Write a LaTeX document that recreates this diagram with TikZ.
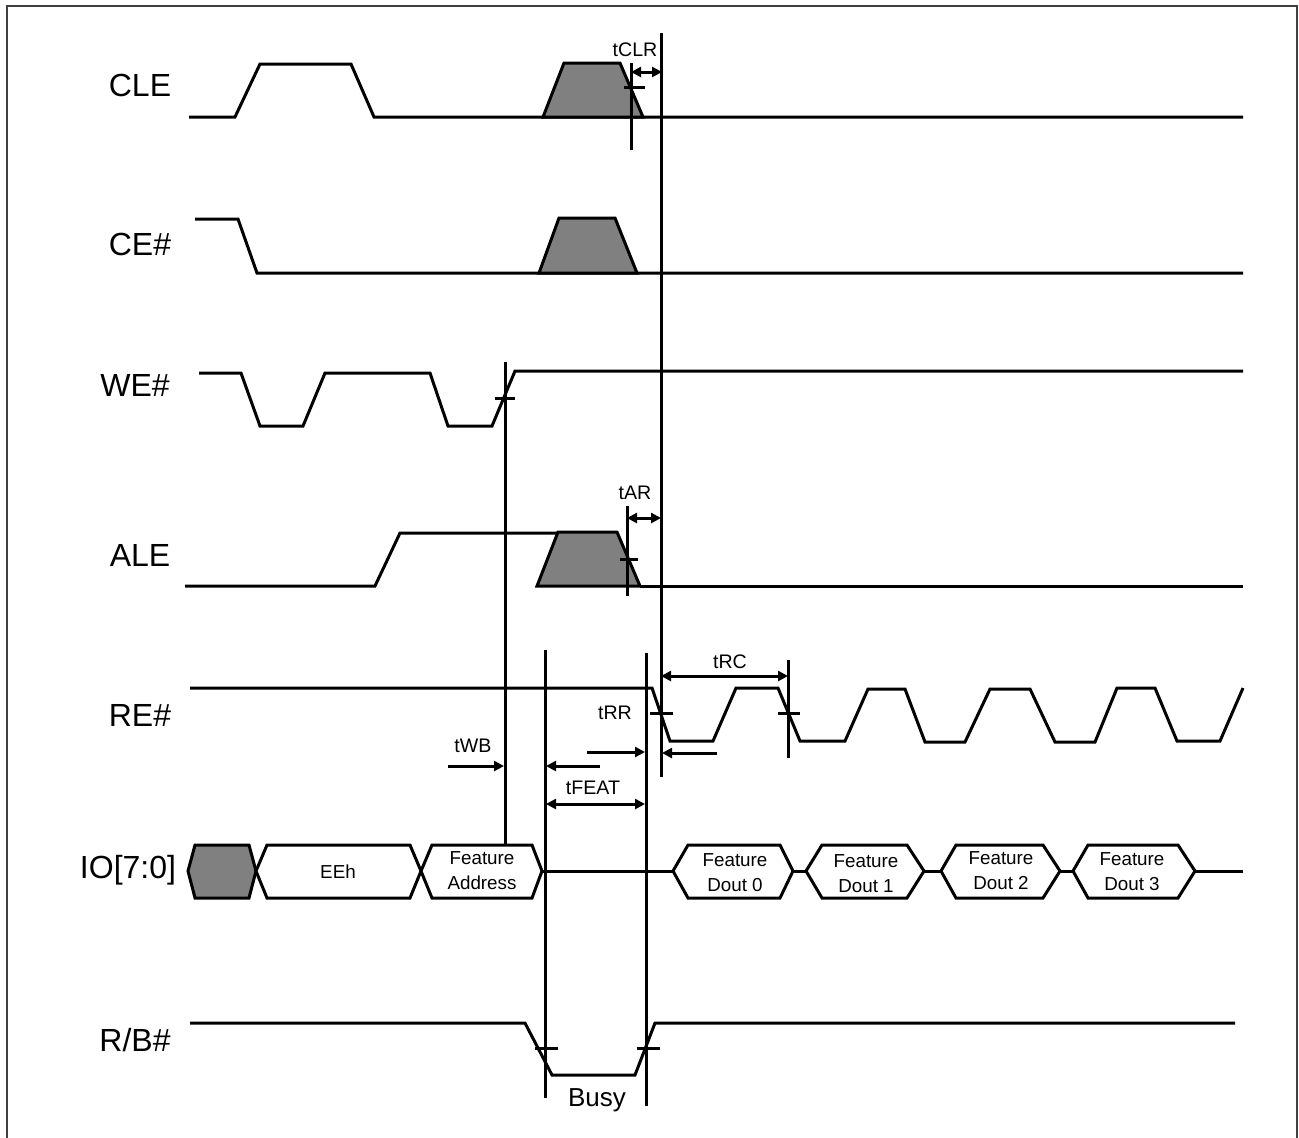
\documentclass[tikz,border=0pt]{standalone}
\usepackage{fontspec}
\setmainfont{Liberation Sans}
\usetikzlibrary{arrows.meta}
\tikzset{
  sig/.style={line width=1.5pt, line join=miter},
  gfill/.style={sig, fill=black!50},
  vline/.style={line width=1.5pt},
  dimarr/.style={line width=1.5pt, -{Triangle[length=5pt,width=5pt]}},
  dimboth/.style={line width=1.5pt, {Triangle[length=5pt,width=5pt]}-{Triangle[length=5pt,width=5pt]}},
  siglabel/.style={font=\fontsize{16}{19}\selectfont, inner sep=0pt},
  tlabel/.style={font=\fontsize{9.8}{12}\selectfont, inner sep=0pt},
  buslabel/.style={font=\fontsize{9.4}{12.5}\selectfont, inner sep=0pt, align=center},
  frame/.style={line width=1pt, draw=black!75}
}
\newcommand{\bushex}[5]{% xl, xtl, xtr, xr, fill
  \draw[sig,#5] (#1,871) -- (#2,845) -- (#3,845) -- (#4,871) -- (#3,898) -- (#2,898) -- cycle;}
\begin{document}
\begin{tikzpicture}[x=0.5pt,y=-0.5pt]
\useasboundingbox (0,0) rectangle (1299,1137);
% frame
\draw[frame] (7,1140) -- (7,6) -- (1297,6) -- (1297,1140);

% signal labels
\node[siglabel] (lcle) at (140,85) {CLE};
\node[siglabel] (lce) at (140,244) {CE\#};
\node[siglabel] (lwe) at (135,385) {WE\#};
\node[siglabel] (lale) at (140,555) {ALE};
\node[siglabel] (lre) at (140,715) {RE\#};
\node[siglabel] (lio) at (128,870) {IO[7:0]};
\node[siglabel] (lrb) at (135,1040) {R/B\#};

% CLE
\draw[sig] (189,117) -- (235,117) -- (260,64) -- (351,64) -- (374,117) -- (1243,117);
\draw[gfill] (543,117) -- (564,63) -- (620,63) -- (643,117) -- cycle;
% CE#
\draw[sig] (195,219) -- (238,219) -- (257,273) -- (1243,273);
\draw[gfill] (539,273) -- (559,218) -- (615,218) -- (637,273) -- cycle;
% WE#
\draw[sig] (199,373) -- (241,373) -- (260,426) -- (303,426) -- (325,373) -- (430,373) -- (448,426) -- (492,426) -- (515,371) -- (1243,371);
% ALE
\draw[sig] (185,586) -- (375,586) -- (400,533) -- (558,533);
\draw[gfill] (537,586) -- (558,532) -- (617,532) -- (640,586) -- cycle;
\draw[sig] (640,586) -- (1243,586);
% RE#
\draw[sig] (190,688) -- (652,688) -- (670,741) -- (713,741) -- (736,688) -- (778,688) -- (800,741) -- (845,741) -- (868,689) -- (905,689) -- (925,742) -- (965,742) -- (990,689) -- (1030,689) -- (1055,742) -- (1095,742) -- (1117,688) -- (1155,688) -- (1177,741) -- (1220,741) -- (1243,688);
% IO bus
\bushex{188}{195}{249}{256}{fill=black!50}
\bushex{256}{267}{410}{421}{fill=white}
\bushex{421}{432}{532}{542}{fill=white}
\draw[sig] (542,871) -- (673,871);
\bushex{673}{688}{780}{793}{fill=white}
\draw[sig] (793,871) -- (806,871);
\bushex{806}{822}{907}{924}{fill=white}
\draw[sig] (924,871) -- (941,871);
\bushex{941}{956}{1043}{1060}{fill=white}
\draw[sig] (1060,871) -- (1073,871);
\bushex{1073}{1088}{1178}{1195}{fill=white}
\draw[sig] (1195,871) -- (1243,871);
\node[siglabel, font=\fontsize{9.4}{12}\selectfont] (eeh) at (338,872) {EEh};
\node[buslabel] (fa) at (482,871) {Feature\\Address};
\node[buslabel] (d0) at (735,873) {Feature\\Dout 0};
\node[buslabel] (d1) at (866,874) {Feature\\Dout 1};
\node[buslabel] (d2) at (1001,871) {Feature\\Dout 2};
\node[buslabel] (d3) at (1132,872) {Feature\\Dout 3};
% R/B#
\draw[sig] (190,1023) -- (525,1023) -- (552,1075) -- (635,1075) -- (655,1023) -- (1235,1023);
\node[siglabel, font=\fontsize{13}{15}\selectfont] (busy) at (597,1100) {Busy};

% vertical reference lines
\coordinate (vclrT) at (631,63);  \coordinate (vclrB) at (631,150);
\coordinate (vbigT) at (661,33);  \coordinate (vbigB) at (661,777);
\coordinate (varT) at (627,506);  \coordinate (varB) at (627,596);
\coordinate (vweT) at (505,362);  \coordinate (vweB) at (505,845);
\coordinate (vflT) at (545,650);  \coordinate (vflB) at (545,1098);
\coordinate (vfrT) at (646,653);  \coordinate (vfrB) at (646,1106);
\coordinate (vrcT) at (788,660);  \coordinate (vrcB) at (788,758);
\draw[vline] (vclrT) -- (vclrB);
\draw[vline] (vbigT) -- (vbigB);
\draw[vline] (varT) -- (varB);
\draw[vline] (vweT) -- (vweB);
\draw[vline] (vflT) -- (vflB);
\draw[vline] (vfrT) -- (vfrB);
\draw[vline] (vrcT) -- (vrcB);

% crossing ticks
\draw[vline] (624,87) -- (645,87);
\draw[vline] (495,398) -- (515,398);
\draw[vline] (620,559) -- (638,559);
\draw[vline] (650,713) -- (673,713);
\draw[vline] (778,713) -- (800,713);
\draw[vline] (535,1048) -- (558,1048);
\draw[vline] (637,1048) -- (660,1048);

% timing labels
\node[tlabel] (tclr) at (635,50) {tCLR};
\node[tlabel] (tar) at (635,493) {tAR};
\node[tlabel] (trc) at (730,662) {tRC};
\node[tlabel] (trr) at (615,713) {tRR};
\node[tlabel] (twb) at (473,746) {tWB};
\node[tlabel] (tfeat) at (593,788) {tFEAT};

% dimension arrows
\coordinate (clrA) at (631,72); \coordinate (clrB) at (662,72);
\draw[dimboth] (clrA) -- (clrB);
\coordinate (arA) at (627,518); \coordinate (arB) at (661,518);
\draw[dimboth] (arA) -- (arB);
\coordinate (rcA) at (661,676); \coordinate (rcB) at (788,676);
\draw[dimboth] (rcA) -- (rcB);
\coordinate (wbS) at (448,766); \coordinate (wbE) at (504,766);
\draw[dimarr] (wbS) -- (wbE);
\coordinate (wb2S) at (600,766); \coordinate (wb2E) at (546,766);
\draw[dimarr] (wb2S) -- (wb2E);
\coordinate (rrS) at (587,752); \coordinate (rrE) at (645,752);
\draw[dimarr] (rrS) -- (rrE);
\coordinate (rr2S) at (717,753); \coordinate (rr2E) at (662,753);
\draw[dimarr] (rr2S) -- (rr2E);
\coordinate (ftA) at (546,804); \coordinate (ftB) at (645,804);
\draw[dimboth] (ftA) -- (ftB);
\end{tikzpicture}
\end{document}
